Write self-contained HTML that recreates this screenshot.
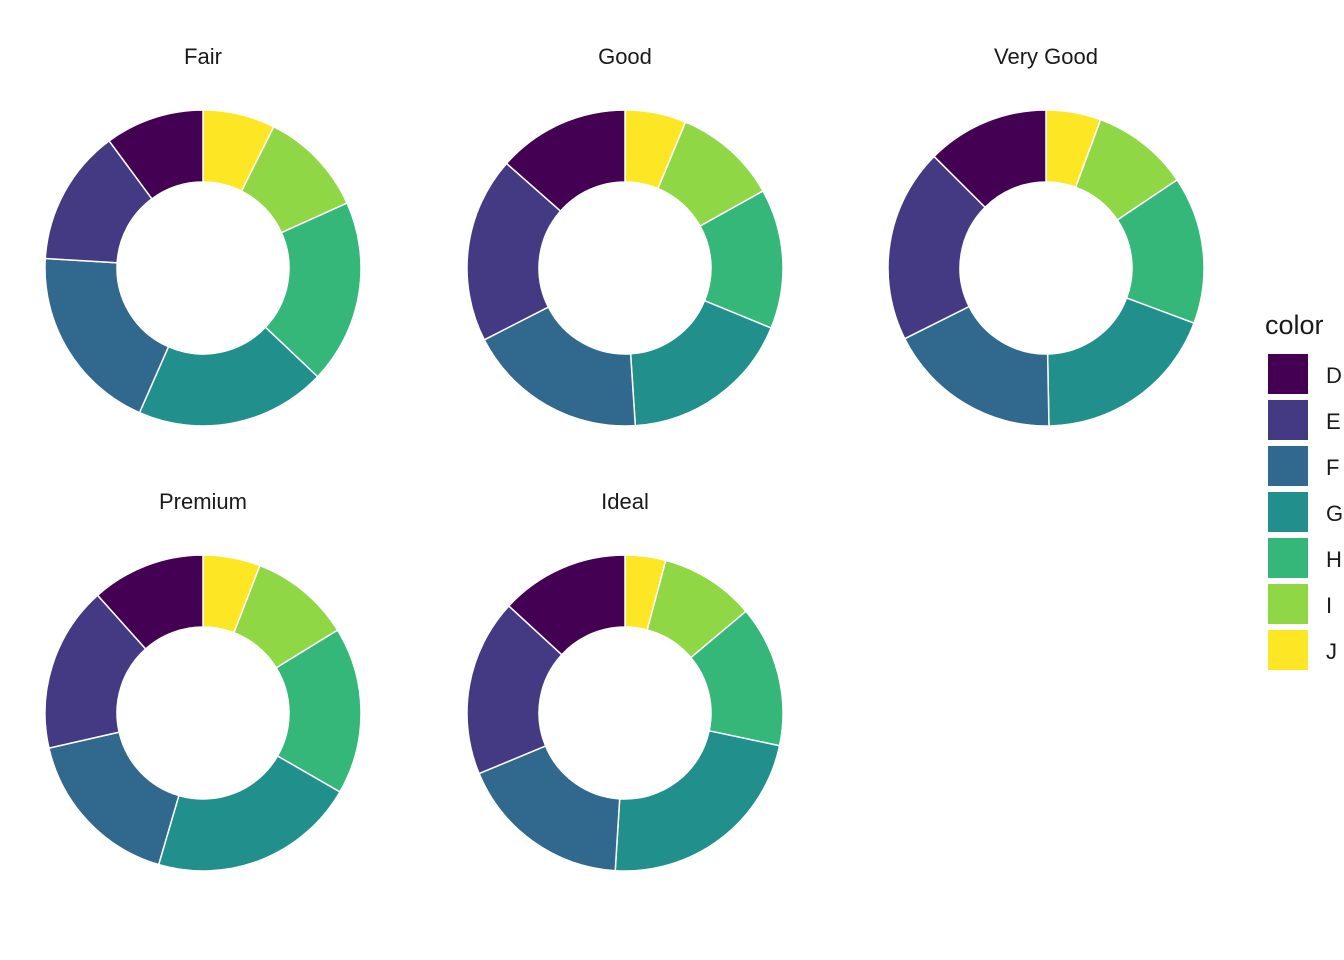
<!DOCTYPE html>
<html><head><meta charset="utf-8"><style>
body{margin:0;background:#fff;font-family:"Liberation Sans",sans-serif;}
svg{display:block}
</style></head><body>
<svg id="c" width="1344" height="960"></svg>
<script>
const cuts = ["Fair","Good","Very Good","Premium","Ideal"];
const colorsLevels = ["D","E","F","G","H","I","J"];
const fairCounts = [163,224,312,314,303,175,119];
const goodCounts = [662,933,909,871,702,522,307];
const veryGoodCounts = [1513,2400,2164,2299,1824,1204,678];
const premiumCounts = [1603,2337,2331,2924,2360,1428,808];
const idealCounts = [2834,3903,3826,4884,3115,2093,896];
const series = [fairCounts,goodCounts,veryGoodCounts,premiumCounts,idealCounts];
const palette = ["#440154","#443983","#31688E","#21908C","#35B779","#8FD744","#FDE725"];
const NS="http://www.w3.org/2000/svg";
const svg=document.getElementById('c');
function mk(t,a,p){const e=document.createElementNS(NS,t);for(const k in a)e.setAttribute(k,a[k]);(p||svg).appendChild(e);return e;}
const centersX=[203,625,1046], centersY=[268,713];
const R=158, r=86;
function pt(cx,cy,rad,a){return [cx+rad*Math.sin(a), cy-rad*Math.cos(a)];}
series.forEach((vals,i)=>{
  const cx=centersX[i%3], cy=centersY[Math.floor(i/3)];
  const g=mk('g',{});
  
  
  const t=mk('text',{x:cx,y:cy-204,'text-anchor':'middle','font-size':22,fill:'#1a1a1a'},g);
  t.textContent=cuts[i];
  
  
  const total=vals.reduce((a,b)=>a+b,0);
  // clockwise from top: J first, then I ... D last
  let acc=0;
  for(let k=vals.length-1;k>=0;k--){
    const a0=acc/total*2*Math.PI; acc+=vals[k]; const a1=acc/total*2*Math.PI;
    const large=(a1-a0)>Math.PI?1:0;
    const p0=pt(cx,cy,R,a0),p1=pt(cx,cy,R,a1),q1=pt(cx,cy,r,a1),q0=pt(cx,cy,r,a0);
    const d=`M${p0}A${R},${R} 0 ${large} 1 ${p1}L${q1}A${r},${r} 0 ${large} 0 ${q0}Z`;
    const p=mk('path',{d:d,fill:palette[k],stroke:'#fff','stroke-width':1.5},g);
    
    
  }
});
const lg=mk('g',{});


const lt=mk('text',{x:1265,y:334,'font-size':27,fill:'#1a1a1a'},lg);
lt.textContent='color';


colorsLevels.forEach((c,k)=>{
  const y=354+k*46;
  const rc=mk('rect',{x:1268,y:y,width:40,height:40,fill:palette[k]},lg);
  
  
  const tx=mk('text',{x:1326,y:y+29,'font-size':22,fill:'#1a1a1a'},lg);
  tx.textContent=c;
  
  
});
</script>
</body></html>
